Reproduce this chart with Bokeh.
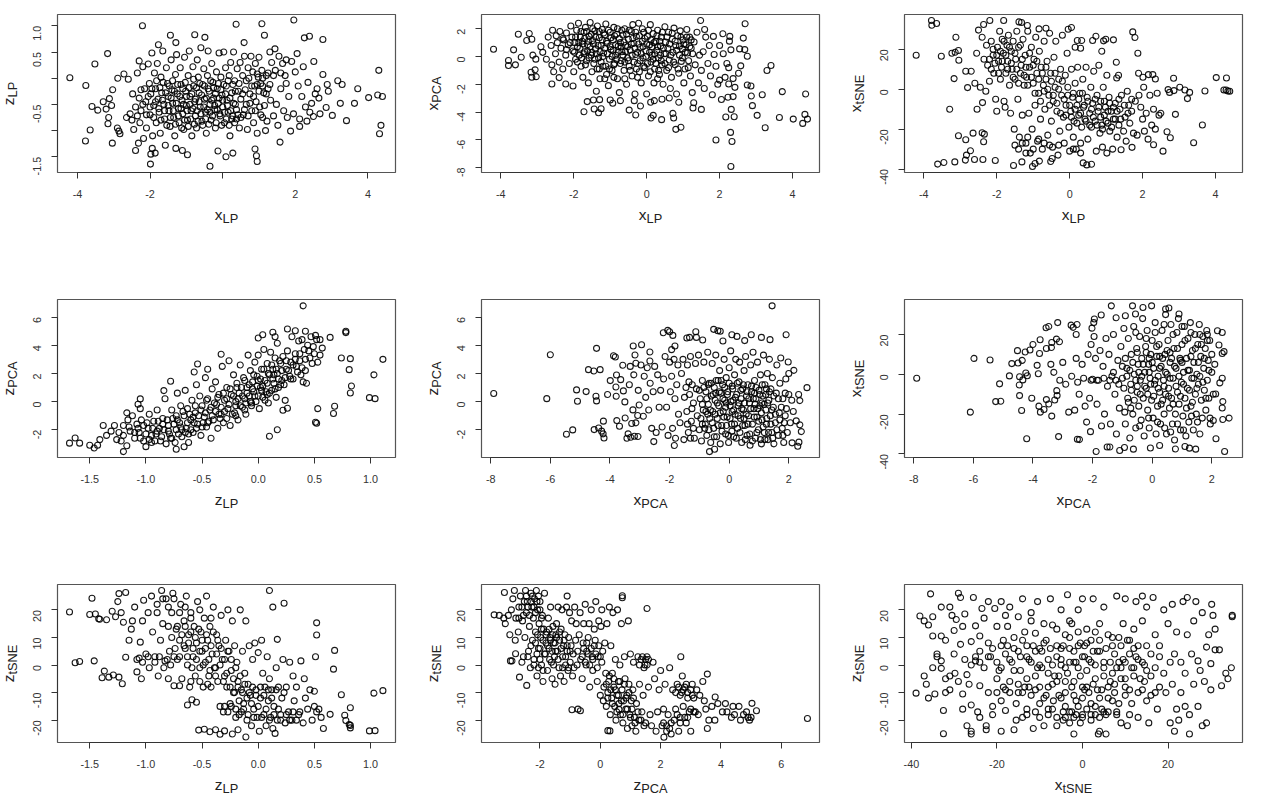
from math import pi
from bokeh.plotting import figure
from bokeh.models import FixedTicker, Title
from bokeh.layouts import column, row
from bokeh.embed import file_html
from bokeh.resources import INLINE

xlp_zlp = [(-4.21,0.01),(-3.77,-0.14),(-3.52,0.27),(-3.17,0.47),(-3.6,-0.54),(-3.44,-0.61),(-3.29,-0.45),(-3.12,-0.39),(-3.21,-0.59),(-3.06,-0.52),(-3.14,-0.75),(-3.16,-0.87),(-3.65,-0.99),(-3.78,-1.2),(-3.04,-1.24),(-2.9,-0.95),(-2.86,-1.01),(-2.83,-1.06),(-3.03,-0.22),(-2.89,0.0),(-2.21,1.0),(0.37,1.03),(1.08,1.04),(1.96,1.11),(1.15,0.82),(2.25,0.77),(2.39,0.8),(2.76,0.74),(-1.44,0.82),(-0.77,0.83),(-0.49,0.78),(-1.77,0.64),(-1.29,0.68),(0.59,0.68),(1.44,0.56),(4.3,0.15),(3.17,-0.05),(3.29,-0.12),(3.72,-0.2),(4.02,-0.37),(4.27,-0.32),(4.4,-0.35),(3.24,-0.48),(3.63,-0.48),(3.41,-0.81),(3.02,-0.71),(4.36,-0.9),(4.32,-1.06),(2.76,0.07),(2.88,-0.12),(2.91,-0.25),(2.85,-0.56),(2.68,-0.68),(2.51,0.32),(-1.99,-1.64),(-0.35,-1.68),(0.95,-1.59),(0.93,-1.48),(0.89,-1.35),(0.28,-1.43),(0.09,-1.5),(-0.13,-1.39),(-0.97,-1.46),(-1.11,-1.38),(-1.29,-1.34),(-1.98,-1.45),(-1.86,-1.43),(-1.94,-1.34),(-2.4,-1.38),(-2.32,-1.24),(1.58,-1.22),(1.87,-1.01),(2.12,-0.92),
(-2.72,0.08),(-2.6,-0.02),(-2.65,-0.75),(-2.55,-0.68),(-2.48,-0.3),(-2.5,-0.8),(-2.45,-0.98),(-2.4,-0.55),(-2.35,0.1),(-2.3,0.33),(-2.3,-0.38),(-2.28,-0.85),(-2.25,-0.62),(-2.2,0.22),(-2.18,-1.15),(-2.15,-0.2),(-2.12,-0.45),(-2.1,-0.95),(-2.05,0.27),(-2.02,-0.1),(-2.0,-0.7),(-1.98,-0.3),(-1.95,0.48),(-1.93,-1.1),(-1.9,-0.52),(-1.88,0.1),(-1.85,-0.2),(-1.83,-0.85),(-1.8,0.28),(-1.78,-0.4),(-1.75,-0.65),(-1.72,-1.05),(-1.7,0.02),(-1.68,-0.28),(-1.65,0.52),(-1.62,-0.5),(-1.6,-0.78),(-1.58,-1.28),(-1.55,0.2),(-1.52,-0.1),(-1.5,-0.35),(-1.48,-0.62),(-1.45,-0.92),(-1.42,0.35),(-1.4,-0.22),(-1.38,-0.48),(-1.35,-0.75),(-1.32,-1.1),(-1.3,0.07),(-1.27,0.45),(-1.25,-0.3),(-1.22,-0.58),(-1.2,-0.85),(-1.17,0.2),(-1.15,-0.12),(-1.12,-0.42),(-1.1,-0.68),(-1.07,-0.98),(-1.05,0.4),(-1.02,-0.25),(-1.0,-0.52),(-0.97,-0.8),(-0.95,0.05),(-0.92,0.52),(-0.9,-0.35),(-0.87,-0.62),(-0.85,-1.1),(-0.82,0.22),(-0.8,-0.15),(-0.77,-0.45),(-0.75,-0.72),(-0.72,-0.95),(-0.7,0.35),(-0.67,0.02),(-0.65,-0.28),(-0.62,-0.55),(-0.6,0.58),(-0.57,-0.82),(-0.55,-0.12),(-0.52,0.18),(-0.5,-0.4),(-0.47,-0.65),(-0.45,-1.05),(-0.42,0.05),(-0.4,0.52),(-0.37,-0.25),(-0.35,-0.5),(-0.32,-0.8),(-0.3,0.28),(-0.27,-0.08),(-0.25,-0.38),(-0.22,-0.6),(-0.2,-0.95),(-0.17,0.12),(-0.15,-0.2),(-0.12,-0.48),(-0.1,0.48),(-0.07,-0.72),(-0.05,0.02),(-0.02,-0.32),(0.0,-0.55),(0.03,0.5),(0.05,-0.85),(0.08,0.2),(0.1,-0.15),(0.12,-0.42),(0.15,-0.65),(0.18,0.05),(0.2,-1.1),(0.22,0.3),(0.25,-0.28),(0.28,-0.72),(0.3,0.5),(0.33,-0.05),(0.35,-0.5),(0.38,-0.78),(0.4,0.18),(0.43,-0.25),(0.46,-0.95),(0.48,0.3),(0.5,-0.4),(0.55,0.05),(0.57,-0.7),(0.6,0.42),(0.62,-0.22),(0.65,-0.5),(0.68,-0.98),(0.7,0.2),(0.72,0.0),(0.75,-0.3),(0.78,0.42),(0.8,-0.62),(0.83,0.12),(0.85,-0.85),(0.88,-0.15),(0.9,0.28),(0.92,-0.45),(0.95,-1.05),(0.98,0.02),(1.0,0.4),(1.02,-0.55),(1.05,-0.1),(1.08,0.15),(1.1,-0.75),(1.13,-0.28),(1.18,-1.0),(1.2,0.05),(1.22,-0.82),(1.25,-0.2),(1.3,0.5),(1.32,-0.42),(1.35,0.3),(1.4,-0.72),(1.45,0.15),(1.48,-0.5),(1.52,-0.9),(1.55,0.42),(1.6,-0.2),(1.65,0.28),(1.68,-0.62),(1.72,0.05),(1.75,0.35),(1.78,-0.75),(1.82,-0.35),(1.9,0.32),(1.95,-0.68),(2.0,0.12),(2.05,0.47),(2.08,-0.15),(2.12,-0.78),(2.18,-0.35),(2.22,0.22),(2.28,-0.55),(2.32,-0.82),(2.35,-0.08),(2.4,-0.65),(2.45,-0.48),(2.5,-0.73),(2.55,-0.3),(2.6,-0.2),(2.65,-0.38)]
xlp_zlp_core = [(-1.95,-0.2),(-1.9,-0.75),(-1.85,-0.45),(-1.82,-0.05),(-1.76,-0.58),(-1.73,-0.18),(-1.7,-0.8),(-1.66,-0.42),(-1.64,-0.08),(-1.6,-0.62),(-1.57,-0.28),(-1.54,-0.9),(-1.5,-0.52),(-1.47,-0.15),(-1.44,-0.75),(-1.42,-0.38),(-1.38,-0.05),(-1.36,-0.62),(-1.33,-0.25),(-1.3,-0.88),(-1.28,-0.48),(-1.24,-0.12),(-1.22,-0.72),(-1.18,-0.35),(-1.15,-0.58),(-1.13,-0.95),(-1.1,-0.2),(-1.08,-0.5),(-1.05,-0.8),(-1.03,-0.08),(-1.0,-0.35),(-0.98,-0.62),(-0.95,-0.92),(-0.92,-0.18),(-0.9,-0.5),(-0.88,-0.78),(-0.85,-0.3),(-0.82,-0.58),(-0.8,-0.02),(-0.78,-0.88),(-0.75,-0.4),(-0.72,-0.18),(-0.7,-0.62),(-0.68,-0.82),(-0.65,-0.45),(-0.63,-0.1),(-0.6,-0.68),(-0.58,-0.32),(-0.55,-0.9),(-0.52,-0.55),(-0.5,-0.15),(-0.47,-0.78),(-0.45,-0.38),(-0.42,-0.6),(-0.4,-0.2),(-0.38,-0.88),(-0.35,-0.65),(-0.33,-0.05),(-0.3,-0.42),(-0.28,-0.72),(-0.25,-0.18),(-0.22,-0.52),(-0.2,-0.3),(-0.18,-0.85),(-0.15,-0.6),(-0.12,-0.1),(-0.1,-0.38),(-0.08,-0.68),(-0.05,-0.22),(-0.03,-0.9),(0,-0.42),(0.03,-0.12),(0.05,-0.65),(0.08,-0.3),(0.1,-0.78),(0.13,-0.52),(0.15,-0.05),(0.18,-0.9),(0.2,-0.38),(0.22,-0.62),(0.25,-0.78),(0.28,-0.12),(0.3,-0.48),(0.33,-0.85),(0.35,-0.25),(0.38,-0.6),(0.42,-0.7),(0.45,-0.1),(0.5,-0.75),(0.55,-0.3),(0.6,-0.6),(0.65,-0.05),(0.7,-0.72),(0.75,-0.48),(0.8,-0.15),(0.85,-0.35),(0.9,-0.62),(0.95,0.08),(1.0,-0.25),(1.05,-0.7),(1.1,0.0),(1.15,-0.52),(1.2,-0.3),(1.25,0.1),(1.3,-0.12),(1.1,-0.15),(0.95,-0.12),(-2.25,-0.22),(-2.2,-0.5),(-2.35,-0.72),(-2.1,-0.7),(-2.05,-0.35),(-2.0,-0.55),(1.4,0.05),(1.6,0.1),(1.75,-0.1)]

xlp_xpca = [(-4.2,0.53),(-3.79,-0.29),(-3.79,-0.65),(-3.65,0.48),(-3.6,-0.6),(-3.44,-0.05),(-3.52,1.61),(-3.22,1.66),(-3.29,1.16),(-3.15,1.25),(-3.12,0.1),(-3.04,-0.19),(-3.06,-0.96),(-3.17,-1.13),(-3.15,-1.49),(-3.03,-1.45),(-2.6,-1.98),(-2.4,-1.52),(-2.22,-1.98),(-2.02,-2.12),(-1.72,-3.98),(-1.63,-3.25),(-1.44,-3.78),(-1.32,-4.05),(-1.25,-3.76),(-1.46,-3.13),(-1.29,-3.11),(-1.0,-3.13),(-0.93,-3.37),(-0.72,-3.18),(-0.48,-3.86),(-0.3,-4.22),(-0.17,-3.57),(-0.34,-3.18),(0.11,-3.3),(0.12,-4.43),(0.18,-4.24),(0.41,-4.55),(0.74,-4.43),(0.72,-4.1),(0.8,-5.25),(0.94,-5.1),(0.88,-3.3),(0.21,-3.18),(0.42,-3.08),(0.62,-2.99),(1.27,-3.71),(1.5,-3.81),(1.29,-3.33),(1.9,-6.02),(2.3,-5.47),(2.34,-6.12),(2.31,-7.93),(2.17,-4.36),(2.32,-3.81),(2.4,-4.34),(2.37,-2.89),(2.23,-2.94),(2.42,-2.22),(2.37,-1.59),(2.25,-1.98),(3.03,-4.24),(3.25,-5.13),(2.9,-3.54),(2.87,-2.84),(2.76,-2.05),(2.86,-2.12),(3.17,-2.75),(3.3,-1.01),(3.41,-0.65),(3.72,-2.53),(3.64,-4.39),(4.02,-4.51),(4.28,-4.82),(4.34,-4.17),(4.41,-4.51),(4.36,-2.7),(2.7,2.36),(2.65,1.33),(2.28,1.45),(2.27,1.11),(2.09,1.64),(1.48,2.6),(1.83,1.45),(1.59,1.95),(2.76,0.02),(2.58,-0.67),(2.52,-1.2),(2.31,0.48),(2.55,0.55),(2.69,0.5),
(-2.9,0.7),(-2.85,0.3),(-2.75,-0.2),(-2.7,1.4),(-2.62,0.8),(-2.6,-0.6),(-2.58,1.9),(-2.55,-1.1),(-2.5,0.2),(-2.48,1.5),(-2.45,1.0),(-2.4,-0.4),(-2.38,1.8),(-2.35,0.6),(-2.3,-0.9),(-2.28,1.2),(-2.22,0.1),(-2.2,1.7),(-2.15,0.85),(-2.12,-0.5),(-2.08,2.2),(-2.05,1.4),(-2.02,0.4),(-2,-1.1),(-1.97,1.0),(-1.95,-0.2),(-1.92,1.9),(-1.9,0.7),(-1.87,2.4),(-1.85,0.1),(-1.82,1.4),(-1.8,-0.7),(-1.77,1.1),(-1.75,-1.5),(-1.72,1.75),(-1.7,0.35),(-1.68,2.1),(-1.65,-0.3),(-1.62,0.85),(-1.6,-1.9),(-1.58,1.45),(-1.55,2.45),(-1.52,0.1),(-1.5,-1.1),(-1.48,1.15),(-1.45,-0.5),(-1.42,1.85),(-1.4,0.55),(-1.38,-2.5),(-1.35,2.2),(-1.32,-0.1),(-1.3,1.35),(-1.28,-1.6),(-1.25,0.8),(-1.22,1.95),(-1.2,-0.7),(-1.18,0.25),(-1.15,1.55),(-1.12,2.35),(-1.1,-1.3),(-1.08,0.95),(-1.05,-2.1),(-1.02,-0.2),(-1,1.75),(-0.98,0.5),(-0.95,-1.0),(-0.92,1.2),(-0.9,2.1),(-0.88,-0.5),(-0.85,0.1),(-0.82,1.6),(-0.8,-1.6),(-0.78,0.75),(-0.75,-2.6),(-0.72,1.0),(-0.7,-0.3),(-0.68,0.35),(-0.65,1.55),(-0.62,-1.0),(-0.6,2.0),(-0.58,0.8),(-0.55,-2.0),(-0.52,-0.1),(-0.5,1.25),(-0.48,-0.7),(-0.45,0.45),(-0.42,1.8),(-0.4,-1.4),(-0.38,2.3),(-0.35,0.95),(-0.32,-2.7),(-0.3,0.15),(-0.28,1.45),(-0.25,-0.5),(-0.22,2.4),(-0.2,-1.1),(-0.18,0.65),(-0.15,-1.9),(-0.12,1.1),(-0.1,-0.1),(-0.08,1.75),(-0.05,-0.8),(-0.02,0.4),(0,-2.7),(0.02,1.45),(0.05,-1.4),(0.08,0.85),(0.1,2.3),(0.12,-0.4),(0.15,0.1),(0.18,1.65),(0.2,-1.9),(0.22,-0.9),(0.25,1.1),(0.28,0.45),(0.3,1.9),(0.32,-0.1),(0.35,-1.3),(0.38,0.75),(0.4,1.4),(0.42,-0.6),(0.45,-2.0),(0.48,0.2),(0.5,2.15),(0.52,1.05),(0.55,-1.0),(0.58,0.6),(0.6,1.75),(0.62,-0.25),(0.65,-2.3),(0.68,-1.5),(0.7,1.25),(0.72,0.3),(0.75,2.05),(0.78,-0.6),(0.8,0.8),(0.82,-2.7),(0.85,1.5),(0.88,-1.2),(0.9,0.1),(0.92,1.85),(0.95,-0.35),(0.98,0.55),(1.0,1.2),(1.02,-1.9),(1.05,-0.9),(1.08,0.85),(1.1,1.95),(1.12,0.25),(1.15,-0.3),(1.18,1.4),(1.2,-1.4),(1.22,0.6),(1.25,-2.6),(1.3,1.05),(1.33,-0.6),(1.38,1.75),(1.42,-1.9),(1.45,0.1),(1.5,-1.0),(1.55,0.35),(1.58,-2.3),(1.62,1.4),(1.68,-0.5),(1.72,0.8),(1.75,-1.4),(1.8,-2.75),(1.85,0.15),(1.9,-0.7),(1.95,-2.0),(2.0,0.8),(2.05,-3.1),(2.1,0.2),(2.15,-1.5),(2.2,-0.5),(2.25,-0.8),(2.0,-1.7)]
xlp_xpca_core = [(-1.98,0.3),(-1.95,1.4),(-1.9,-0.4),(-1.86,1.0),(-1.83,0.6),(-1.8,1.8),(-1.78,-0.1),(-1.75,0.9),(-1.72,0.2),(-1.7,1.3),(-1.68,-0.6),(-1.65,1.8),(-1.62,0.4),(-1.6,1.1),(-1.58,-0.1),(-1.55,0.7),(-1.52,1.6),(-1.5,0.3),(-1.48,2.0),(-1.45,0.9),(-1.42,-0.2),(-1.4,1.4),(-1.38,0.2),(-1.36,-0.9),(-1.33,0.8),(-1.3,1.8),(-1.28,0.35),(-1.25,-0.4),(-1.22,1.2),(-1.2,0.0),(-1.18,1.7),(-1.15,0.6),(-1.12,-0.7),(-1.1,1.1),(-1.08,0.2),(-1.05,1.9),(-1.02,-0.9),(-1,0.7),(-0.98,1.35),(-0.95,0.0),(-0.92,0.45),(-0.9,-0.6),(-0.88,1.5),(-0.85,0.85),(-0.82,-0.2),(-0.8,2.0),(-0.78,0.3),(-0.75,1.3),(-0.72,-0.5),(-0.7,0.7),(-0.68,1.9),(-0.65,0.1),(-0.62,1.05),(-0.6,-0.4),(-0.58,0.35),(-0.55,1.6),(-0.52,0.7),(-0.5,-0.3),(-0.48,1.9),(-0.45,-1.0),(-0.42,0.9),(-0.4,0.1),(-0.38,1.3),(-0.35,-0.4),(-0.32,0.6),(-0.3,1.75),(-0.28,-0.9),(-0.25,0.3),(-0.22,0.9),(-0.2,1.5),(-0.18,-0.3),(-0.15,0.2),(-0.12,2.0),(-0.1,0.7),(-0.08,-0.7),(-0.05,1.3),(-0.02,0.0),(0,0.9),(0.02,-0.5),(0.05,1.9),(0.08,0.3),(0.1,-1.1),(0.12,1.2),(0.15,0.7),(0.18,-0.2),(0.2,1.0),(0.22,0.2),(0.25,-0.5),(0.28,1.5),(0.3,0.7),(0.33,-1.0),(0.36,1.1),(0.38,0.1),(0.4,-0.3),(0.43,1.75),(0.46,0.6),(0.5,-0.5),(0.53,0.2),(0.56,1.4),(0.6,-0.8),(0.63,0.9),(0.66,0.1),(0.7,1.7),(0.74,-0.4),(0.78,1.1),(0.82,0.45),(0.86,-0.9),(0.9,0.75),(0.94,1.4),(0.98,-0.1),(1.02,0.9),(1.06,0.3),(1.1,1.4),(1.14,-0.8),(1.18,0.7),(1.22,1.2),(1.26,0.2),(-0.9,-1.5),(-1.3,-0.9),(-1.15,-1.6),(-0.6,-1.6),(-0.25,-1.5),(0.3,-1.6),(-2.2,0.5),(-2.3,1.3),(-2.1,1.0)]

xlp_xtsne = [(-4.21,17),(-3.79,34.4),(-3.78,32),(-3.65,32.9),(-3.52,16.5),(-3.12,26),(-3.23,18),(-3.14,18.5),(-3.05,19.4),(-3.04,14.5),(-3.17,5.3),(-2.8,0.8),(-3.29,-10),(-2.54,-10),(-2.39,-6.7),(-3.05,-23.3),(-2.85,-25.3),(-2.65,-22),(-2.4,-21.8),(-2.34,-22.5),(-2.36,-26.3),(-2.72,-30.8),(-2.83,-33),(-2.86,-35.5),(-3.15,-36.4),(-3.45,-36.7),(-3.62,-37.5),(-2.61,-35.2),(-2.38,-35.2),(-2.04,-35.7),(-1.54,-38.2),(-1.31,-36.4),(-1.02,-38.7),(-0.95,-37.2),(-0.83,-36),(-0.52,-36.2),(0.37,-36.9),(0.47,-37.9),(0.6,-37.6),(-0.48,-34.7),(-2.36,32.4),(-2.19,34.4),(-1.81,34.4),(-1.39,33.7),(-1.32,33.4),(-1.16,31.9),(-0.84,30.2),(-0.65,30.5),(-0.04,30),(0.05,30.9),(0.21,24.4),(0.33,24.4),(0.63,24.4),(0.72,26.5),(0.93,24.2),(0.99,25),(1.2,24.7),(1.73,28.7),(1.79,25.9),(1.87,18),(0.88,19),(0.3,20.5),(0.15,21),(1.28,13.5),(1.29,5.6),(1.34,7),(1.02,7),(1.89,8),(2.01,6),(2.16,7.3),(2.28,7.3),(2.35,5.1),(2.85,5.5),(2.03,1),(4.02,5.8),(4.3,5.6),(4.23,-0.4),(4.29,-0.4),(4.34,-0.9),(4.39,-1),(3.71,-0.9),(3.29,-1.6),(3.23,-4.7),(3.16,-0.4),(3.02,1),(2.86,-0.7),(2.74,-1.6),(2.7,-0.2),(2.9,-12.6),(3.64,-17.9),(3.4,-26.8),(2.56,-31),(2.76,-24.3),(2.67,-21.3),(2.3,-27.8),(1.71,-29.1),(1.41,-30.3),
(-2.85,9),(-2.7,9),(-2.6,3),(-2.55,18),(-2.5,29.6),(-2.45,1),(-2.4,26),(-2.35,15),(-2.3,-1),(-2.28,22),(-2.25,12),(-2.2,4),(-2.15,24),(-2.1,17),(-2.08,8),(-2.03,-5),(-2,-11),(-1.98,21),(-1.95,14),(-1.92,29),(-1.9,5),(-1.87,11),(-1.85,25),(-1.82,18),(-1.8,-6),(-1.77,-9),(-1.75,8),(-1.72,22),(-1.7,14),(-1.68,27),(-1.65,2),(-1.62,-12),(-1.6,19),(-1.58,10),(-1.55,24),(-1.52,-20),(-1.5,5),(-1.48,15),(-1.45,29),(-1.42,-5),(-1.4,21),(-1.38,-24),(-1.35,8),(-1.33,12),(-1.3,-13),(-1.28,25),(-1.25,2),(-1.22,17),(-1.2,-27),(-1.18,6),(-1.15,29),(-1.12,-12),(-1.1,11),(-1.08,-32),(-1.05,21),(-1.03,-20),(-1,3),(-0.98,15),(-0.95,-8),(-0.93,26),(-0.9,8),(-0.88,-26),(-0.85,-2),(-0.83,19),(-0.8,-15),(-0.78,11),(-0.75,-30),(-0.72,2),(-0.7,24),(-0.68,-10),(-0.65,5),(-0.62,14),(-0.6,-23),(-0.57,-3),(-0.55,28),(-0.52,8),(-0.5,-16),(-0.47,-29),(-0.45,-6),(-0.43,16),(-0.4,1),(-0.38,24),(-0.35,-11),(-0.32,-33),(-0.3,5),(-0.27,-21),(-0.25,10),(-0.22,-3),(-0.2,27),(-0.17,-14),(-0.15,-27),(-0.12,7),(-0.1,-8),(-0.07,18),(-0.05,1),(-0.02,-19),(0,-31),(0.03,-11),(0.05,10),(0.08,-4),(0.1,-24),(0.12,-16),(0.15,3),(0.18,-30),(0.2,-8),(0.22,11),(0.25,-13),(0.28,-2),(0.3,-27),(0.33,-19),(0.36,5),(0.38,-9),(0.42,-15),(0.45,11),(0.48,-4),(0.5,-25),(0.55,-12),(0.58,1),(0.6,-19),(0.63,-7),(0.66,9),(0.7,-16),(0.73,-31),(0.75,-3),(0.78,-11),(0.8,12),(0.83,-22),(0.85,-6),(0.88,-18),(0.9,-29),(0.92,1),(0.95,-13),(0.98,-9),(1.02,-32),(1.05,-17),(1.08,-4),(1.1,-21),(1.14,-11),(1.18,-30),(1.2,-15),(1.25,-7),(1.3,-24),(1.35,-18),(1.38,-10),(1.42,-3),(1.48,-21),(1.52,-14),(1.55,-26),(1.58,-1),(1.62,-8),(1.65,-17),(1.7,-11),(1.75,-22),(1.8,-6),(1.85,-23),(1.9,-3),(1.95,-9),(2.0,-15),(2.05,-21),(2.1,-12),(2.15,-25),(2.2,-3),(2.25,-18),(2.3,-10),(2.35,-20),(2.4,-2),(2.45,-13),(2.5,-12)]
xlp_xtsne_core = [(-2.2,15),(-2.15,10),(-2.1,20),(-2.05,13),(-2,17),(-1.95,8),(-1.9,19),(-1.85,14),(-1.8,24),(-1.75,17),(-1.7,10),(-1.65,21),(-1.6,13),(-1.55,6),(-1.5,18),(-1.45,10),(-1.4,3),(-1.35,22),(-1.3,15),(-1.25,7),(-1.2,11),(-1.15,2),(-1.1,18),(-1.05,6),(-1,12),(-0.95,-2),(-0.9,14),(-0.85,5),(-0.8,-6),(-0.75,8),(-0.7,-1),(-0.65,11),(-0.6,0),(-0.55,-8),(-0.5,4),(-0.45,-3),(-0.4,8),(-0.35,-7),(-0.3,0),(-0.25,-12),(-0.2,4),(-0.15,-5),(-0.1,-13),(-0.05,-3),(0,-8),(0.05,-14),(0.1,-2),(0.15,-10),(0.2,-17),(0.25,-5),(0.3,-12),(0.35,-2),(0.4,-8),(0.45,-16),(0.5,-6),(0.55,-18),(0.6,-10),(0.65,-14),(0.7,-5),(0.75,-18),(0.8,-9),(0.85,-14),(0.9,-20),(0.95,-6),(1,-16),(1.05,-11),(1.1,-7),(1.15,-19),(1.2,-9),(1.25,-15),(1.3,-11),(1.35,-5),(1.4,-15),(1.5,-8),(1.6,-12),(1.7,-5),(-1.5,-28),(-1.4,-30),(-1.3,-27),(-1.15,-24),(-1,-30),(-0.85,-25),(-0.7,-27),(-0.55,-28),(-1.2,-32),(-0.3,-28),(0.1,-30),(0.3,-32)]

zlp_zpca = [(0.4,6.8),(-1.68,-2.95),(-1.63,-2.58),(-1.59,-2.95),(0.78,5),(0.78,4.9),(0.64,4.56),(0.74,3.1),(0.82,3.05),(1.11,3),(0.81,2.27),(1.03,1.9),(0.83,1.11),(0.82,0.61),(0.99,0.28),(1.04,0.21),(0.68,-0.33),(0.67,-0.85),(0.53,-0.5),(0.51,-1.47),(0.52,-1.54),(0.24,0.09),(0.26,-0.47),(0.22,-0.61),(0.17,-2),(0.1,-2.46),(0,4.52),(0.04,4.75),(0.13,4.92),(0.15,4.6),(0.17,4.14),(0.26,5.15),(0.33,5.03),(0.42,5),(-1.2,-3.55),(-1.17,-3.14),(-0.73,-3.38),(-0.66,-3.21),(-0.54,2.67),(-0.57,2.1),(-0.45,2.3),(-0.33,3.36),(-1.05,0.19),(-1.07,-0.19),(-1.05,-0.5),(-0.78,1.44),(-0.84,0.78),
(-1.5,-3.1),(-1.46,-3.3),(-1.43,-3.1),(-1.41,-2.7),(-1.38,-1.7),(-1.35,-2.4),(-1.31,-2.1),(-1.28,-1.7),(-1.26,-2.7),(-1.24,-2.2),(-1.22,-2.8),(-1.2,-1.7),(-1.17,-0.8),(-1.16,-1.3),(-1.14,-2.1),(-1.12,-1.0),(-1.1,-2.6),(-1.08,-1.6),(-1.06,-2.2),(-1.04,-1.3),(-1.02,-2.8),(-1.0,-3.2),(-0.98,-1.9),(-0.97,-0.9),(-0.95,-2.4),(-0.93,-1.4),(-0.92,-2.8),(-0.9,-0.6),(-0.88,-1.9),(-0.86,-2.5),(-0.85,-1.2),(-0.83,0.2),(-0.82,-3.0),(-0.8,-1.7),(-0.79,-2.3),(-0.77,-0.6),(-0.76,-1.2),(-0.74,-2.9),(-0.73,-2.0),(-0.72,0.6),(-0.7,-1.5),(-0.69,-0.3),(-0.68,-2.5),(-0.66,-1.0),(-0.65,0.8),(-0.64,-1.9),(-0.63,-0.5),(-0.62,-2.9),(-0.6,-1.3),(-0.59,0.1),(-0.58,-2.2),(-0.56,-0.8),(-0.55,1.2),(-0.54,-1.6),(-0.52,0.4),(-0.51,-2.4),(-0.5,-0.3),(-0.48,-1.1),(-0.47,1.7),(-0.46,-1.8),(-0.45,0.2),(-0.43,-0.6),(-0.42,-2.6),(-0.41,0.9),(-0.4,-1.3),(-0.38,1.4),(-0.37,-0.2),(-0.36,-1.9),(-0.35,0.5),(-0.33,-0.9),(-0.32,2.5),(-0.31,-1.5),(-0.3,0.1),(-0.28,1.0),(-0.27,-0.5),(-0.26,2.9),(-0.25,-1.7),(-0.24,0.5),(-0.22,1.9),(-0.21,-0.8),(-0.2,0.0),(-0.19,1.3),(-0.18,-1.3),(-0.17,0.6),(-0.16,2.6),(-0.14,-0.4),(-0.13,1.7),(-0.12,0.2),(-0.11,-0.9),(-0.1,1.0),(-0.09,3.3),(-0.08,0.4),(-0.07,2.2),(-0.06,-0.3),(-0.05,1.4),(-0.04,0.7),(-0.03,2.8),(-0.02,0.0),(-0.01,1.8),(0.0,3.3),(0.01,-0.5),(0.02,1.0),(0.03,2.3),(0.04,0.3),(0.05,3.7),(0.06,1.5),(0.07,0.7),(0.08,2.7),(0.09,-0.1),(0.1,1.9),(0.11,3.5),(0.12,0.8),(0.13,2.3),(0.14,1.3),(0.15,3.1),(0.16,0.3),(0.17,2.0),(0.18,1.0),(0.2,2.7),(0.21,1.5),(0.22,3.2),(0.24,1.7),(0.25,2.3),(0.26,3.6),(0.28,1.8),(0.29,2.8),(0.3,4.6),(0.31,1.6),(0.33,3.4),(0.34,2.5),(0.36,4.3),(0.37,2.9),(0.38,1.9),(0.39,4.4),(0.4,1.4),(0.41,3.7),(0.42,2.2),(0.43,1.3),(0.44,4.0),(0.46,3.1),(0.47,4.6),(0.48,2.7),(0.49,3.9),(0.5,3.4),(0.52,4.4),(0.53,2.8),(0.55,3.3),(0.57,3.8),(0.55,4.4),(0.51,4.7)]
zlp_zpca_core = [(-1.0,-2.3),(-0.97,-2.7),(-0.94,-1.9),(-0.91,-2.3),(-0.89,-1.4),(-0.87,-2.8),(-0.84,-2.0),(-0.81,-1.3),(-0.78,-2.6),(-0.75,-1.6),(-0.73,-1.0),(-0.71,-2.3),(-0.69,-1.8),(-0.67,-0.7),(-0.65,-2.2),(-0.63,-1.5),(-0.61,-0.9),(-0.6,-2.0),(-0.58,-1.1),(-0.56,-0.3),(-0.55,-1.9),(-0.53,-1.0),(-0.51,-0.6),(-0.49,-1.5),(-0.47,-0.8),(-0.46,0.1),(-0.44,-1.4),(-0.42,-0.4),(-0.41,-1.0),(-0.39,-0.1),(-0.38,-0.7),(-0.36,0.3),(-0.34,-1.2),(-0.33,-0.4),(-0.31,0.6),(-0.3,-0.7),(-0.28,0.2),(-0.26,-0.2),(-0.25,0.9),(-0.23,-0.9),(-0.22,0.4),(-0.2,-0.3),(-0.19,1.0),(-0.18,0.2),(-0.16,-0.3),(-0.15,1.0),(-0.14,0.4),(-0.12,1.5),(-0.11,-0.1),(-0.1,0.6),(-0.08,1.2),(-0.07,0.0),(-0.05,0.9),(-0.04,1.9),(-0.03,0.4),(-0.01,1.1),(0,0.4),(0.02,1.6),(0.03,0.8),(0.05,2.3),(0.06,0.1),(0.08,1.3),(0.09,2.0),(0.1,0.6),(0.12,2.6),(0.13,1.6),(0.15,0.9),(0.16,2.3),(0.18,1.6),(0.19,2.9),(0.21,2.2),(0.23,1.2),(0.25,2.9),(0.27,2.2),(0.29,1.6),(0.31,2.6),(0.33,3.0),(0.35,2.1),(0.37,3.4),(0.39,2.4),(0.42,3.0),(0.45,3.6),(-1.2,-2.4),(-1.15,-1.8),(-1.1,-2.2),(-1.05,-2.6),(-1.07,-1.9),(-1.02,-1.7),(-0.99,-1.5),(-0.95,-2.9),(-0.9,-2.1),(-0.85,-1.6),(-0.8,-2.1),(-0.77,-2.6),(-0.72,-1.3),(-0.68,-2.0),(-0.62,-2.3),(-0.57,-1.5),(-0.5,-1.8),(-0.45,-1.5),(-0.35,-0.9),(-0.28,-1.2),(-0.2,-1.0),(-0.12,-0.6),(-0.06,-0.1),(0.0,1.5),(0.04,1.1),(0.08,0.5),(0.14,1.9),(0.2,1.2)]

xpca_zpca = [(1.44,6.8),(-7.9,0.57),(-6.12,0.21),(-6,3.33),(-5.46,-2.32),(-5.25,-2.01),(-5.12,0.83),(-5.09,0.02),(-4.8,0.71),(-4.72,2.27),(-4.54,2.17),(-4.33,2.27),(-4.45,3.78),(-4.47,0.38),(-4.45,0.05),(-4.53,-1.99),(-4.38,-1.87),(-4.22,-1.39),(-4.28,-2.1),(-4.23,-2.29),(-4.2,-2.58),(-4.08,0.5),(-3.99,1.49),(-3.88,3.26),(-3.82,3.17),(-3.78,1.89),(-3.8,1.04),(-3.79,0.38),(-3.64,1.56),(-3.55,0.76),(-3.57,2.58),(-3.5,-0.02),(-3.77,-1.35),(-3.68,-1.75),(-3.49,-1.16),(-3.22,3.95),(-2.94,4.04),(-3.16,3.31),(-3.32,2.5),(-2.66,3.52),(-2.66,2.88),(-3.13,2.72),(-2.96,2.6),(-2.21,4.89),(-2.06,5.06),(-2,4.96),(-1.89,4.7),(-1.82,3.95),(-1.93,3.69),(-2.53,-2.84),(-1.84,-3.12),(-3.43,-2.6),(-3.3,-2.53),(-3.18,-2.46),(-3.06,-2.48),(-3.39,-2.29),(-3.27,-1.56),(-3.13,-1.51),(-3.02,-0.24),(-3.23,-0.59),(-3.07,-0.99),(-2.88,-1.04),(2.61,0.99),(2.17,2.22),(1.98,2.81),(1.91,4.75),(1.37,4.4),(1.08,4.56),(0.74,4.75),(2.33,0.5),(2.37,0.07),(2.25,-1.37),(2.37,-1.65),(2.42,-2.13),(2.11,-2.93),(2.34,-2.88),(2.3,-3.17),(-0.66,-3.55),(-0.49,-3.38),(-0.52,5.13),(-0.38,5.03),(-0.3,5),(-1.12,4.96),(-1.1,4.56),(-0.89,4.37),(-1.42,4.52),(-1.33,4.56),(-0.21,4.3),(0.09,4.75),(0.26,4.63),(0.52,4.33),
(-3.35,1.2),(-3.2,1.9),(-3.05,0.8),(-2.85,1.8),(-2.8,0.3),(-2.75,2.4),(-2.7,-0.6),(-2.65,1.3),(-2.6,-1.9),(-2.55,0.7),(-2.5,2.5),(-2.45,-2.2),(-2.4,1.9),(-2.35,-0.4),(-2.3,0.8),(-2.25,-1.8),(-2.2,1.6),(-2.15,3.2),(-2.1,-0.4),(-2.05,-2.4),(-2.0,2.8),(-1.97,0.7),(-1.93,1.8),(-1.9,-1.9),(-1.85,3.0),(-1.82,0.2),(-1.8,-2.6),(-1.76,1.2),(-1.72,2.6),(-1.7,-0.9),(-1.65,-1.5),(-1.6,2.0),(-1.55,3.0),(-1.52,-2.7),(-1.5,0.3),(-1.45,1.0),(-1.42,-0.7),(-1.4,2.6),(-1.37,-2.2),(-1.33,0.5),(-1.3,3.2),(-1.27,-1.4),(-1.24,1.2),(-1.2,-0.1),(-1.17,-2.6),(-1.13,2.7),(-1.1,0.9),(-1.07,-1.0),(-1.03,3.3),(-1.0,-2.0),(-0.97,0.2),(-0.93,-2.8),(-0.9,1.5),(-0.87,-0.6),(-0.85,2.8),(-0.8,-1.6),(-0.78,0.7),(-0.75,-2.4),(-0.72,3.5),(-0.7,-0.2),(-0.67,1.3),(-0.65,-1.2),(-0.62,-2.9),(-0.6,0.4),(-0.57,2.7),(-0.55,-0.7),(-0.52,-1.9),(-0.5,1.0),(-0.47,0.1),(-0.45,3.3),(-0.42,-2.5),(-0.4,-1.2),(-0.37,1.5),(-0.35,-0.3),(-0.32,2.2),(-0.3,-3.0),(-0.28,0.6),(-0.25,-1.7),(-0.22,1.2),(-0.2,-0.7),(-0.17,3.0),(-0.15,0.1),(-0.12,-2.3),(-0.1,1.7),(-0.07,-1.1),(-0.05,0.7),(-0.02,-2.9),(0.0,2.4),(0.03,-0.3),(0.05,3.6),(0.08,-1.6),(0.1,1.1),(0.13,0.1),(0.15,-2.5),(0.18,1.9),(0.2,-0.9),(0.22,3.0),(0.25,0.5),(0.28,-1.9),(0.3,-0.3),(0.33,1.4),(0.35,2.8),(0.38,-1.2),(0.4,0.2),(0.42,-2.9),(0.45,0.9),(0.48,-0.6),(0.5,2.2),(0.53,-1.7),(0.55,3.2),(0.58,0.4),(0.6,-2.4),(0.63,1.2),(0.65,-1.0),(0.68,-0.1),(0.7,-3.1),(0.72,2.6),(0.75,0.7),(0.78,-1.6),(0.8,3.5),(0.83,-0.5),(0.85,1.5),(0.88,-2.6),(0.9,0.2),(0.93,-1.1),(0.95,2.8),(0.98,-2.0),(1.0,0.8),(1.03,-0.3),(1.05,1.9),(1.08,-3.0),(1.1,-1.3),(1.13,0.4),(1.15,3.3),(1.18,-2.2),(1.2,1.2),(1.23,-0.6),(1.25,-1.6),(1.28,2.0),(1.3,-2.7),(1.33,0.1),(1.35,3.0),(1.38,-1.0),(1.4,0.9),(1.43,-2.2),(1.45,1.7),(1.48,-0.4),(1.5,-3.0),(1.55,-1.5),(1.58,0.6),(1.6,2.6),(1.65,-2.4),(1.68,-0.8),(1.7,1.3),(1.73,3.1),(1.78,-1.9),(1.8,0.2),(1.83,-2.9),(1.88,-1.0),(1.9,1.6),(1.95,-2.2),(2,0.5),(2.0,2.0),(2.05,-1.5),(2.1,0.1),(2.15,-0.7)]
xpca_zpca_core = [(-1.0,0.8),(-0.95,-1.2),(-0.9,-0.2),(-0.85,1.0),(-0.82,-1.9),(-0.78,-0.7),(-0.75,0.2),(-0.7,1.2),(-0.68,-2.0),(-0.63,-0.6),(-0.6,1.3),(-0.57,-1.5),(-0.54,0.5),(-0.5,-2.5),(-0.47,-0.9),(-0.44,1.5),(-0.4,-0.1),(-0.37,-1.7),(-0.33,0.7),(-0.3,-0.8),(-0.27,1.5),(-0.24,-2.1),(-0.21,0.2),(-0.18,-1.1),(-0.15,1.0),(-0.12,-0.4),(-0.09,-1.7),(-0.06,0.5),(-0.03,-2.4),(0,1.3),(0.03,-1.2),(0.06,0.0),(0.09,-2.1),(0.12,0.9),(0.15,-0.6),(0.18,-1.6),(0.21,0.3),(0.24,-2.6),(0.27,1.3),(0.3,-1.0),(0.33,-0.1),(0.36,-2.2),(0.39,0.8),(0.42,-0.5),(0.45,-1.7),(0.48,1.2),(0.51,-0.1),(0.54,-2.7),(0.57,-0.9),(0.6,0.7),(0.63,-1.6),(0.66,0.2),(0.69,-2.3),(0.72,-0.5),(0.75,1.1),(0.78,-2.8),(0.81,0.2),(0.84,-1.1),(0.87,-0.2),(0.9,1.0),(0.93,-2.2),(0.96,-0.5),(0.99,-1.4),(1.02,0.5),(1.05,-2.7),(1.08,-0.8),(1.11,1.2),(1.14,-1.8),(1.17,-0.2),(1.2,-2.7),(1.23,0.5),(1.26,-1.2),(1.29,-0.1),(1.32,-2.2),(1.35,0.7),(1.4,-1.6),(1.43,-0.6),(1.46,-2.6),(1.5,0.4),(1.55,-0.9),(1.6,-2.0),(1.65,0.2),(1.7,-1.3),(1.75,-0.4),(1.8,-2.4),(1.85,-1.5),(1.88,0.6),(1.92,-0.5),(-1.2,-1.9),(-1.25,-0.5),(-1.3,-2.6),(-1.35,1.4),(-1.4,-1.6),(-0.9,-1.6),(-0.72,-0.9),(-0.45,0.6),(-0.1,-0.1),(0.1,-0.7),(0.5,-1.2),(0.85,0.6),(1.1,-0.1),(1.25,0.9)]

xpca_xtsne = [(-7.9,-2),(-5.98,8),(-5.44,7.2),(-6.1,-19),(-5.25,-13.7),(-5.08,-13.5),(-5.12,-4.8),(-4.79,-0.8),(-4.71,5.4),(-4.5,5.7),(-4.36,7),(-4.52,11.9),(-4.26,11.2),(-4.1,12.2),(-4,15),(-3.76,17.4),(-3.78,10.5),(-3.86,4.5),(-3.82,0.3),(-4.45,-1.2),(-4.46,-5.4),(-4.34,-2.8),(-4.24,0.7),(-4.19,-0.7),(-4.45,-10.7),(-4.04,-12),(-4.38,-18.2),(-4.21,-32.4),(-3.8,-16),(-3.75,-19),(-3.63,-17.7),(-3.55,-12.7),(-3.47,-14.9),(-3.37,-21),(-3.27,-12.9),(-3.2,-8.2),(-3.19,-10.7),(-3.14,-31.3),(-3.56,23.4),(-3.47,24),(-3.17,26),(-3.55,13),(-3.38,13.5),(-3.21,17.7),(-3.11,16.4),(-3.37,16),(-2.51,-32.6),(-2.44,-32.8),(-2.72,24.7),(-2.52,25),(-2.65,23.6),(-2.55,20),(-2.07,-28.8),(-1.88,-38.8),(-2.02,23.2),(-1.71,29.8),(-1.94,27.8),(-1.96,26),(-1.37,34.4),(-1.21,28.4),(-0.66,34.4),(-0.02,34.4),(-0.31,33.6),(-0.9,29.4),(-0.56,30.3),(0.45,32.8),(0.56,33.3),(0.9,30.3),(2.58,-22),(2.43,-38.8),(2.37,-22.7),(2.35,-16.9),(2.37,-13.7),(2.14,-32.4),(2.05,-23.2),(1.94,-22),(2.19,21.9),(2.35,21),(2.24,14.7),(2.41,11.4),(2.35,10.5),(2.35,-2),(2.27,-4.3),(2.13,-9.9),(-1.09,-38.3),(-0.93,-36.8),(-0.63,-37.6),(-0.06,-37),(0.25,-35.8),(0.78,-37.5),(1.1,-36.3),(1.25,-37.1),(1.46,-37.6),(-1.51,-36.5),(-1.42,-36.5),
(-3.4,5),(-3.3,1),(-3.1,-3),(-3.0,6),(-2.9,-5),(-2.8,-19),(-2.7,-1),(-2.6,-18),(-2.55,8),(-2.5,-4),(-2.45,-10),(-2.35,5),(-2.3,-2),(-2.25,-16),(-2.2,-24),(-2.15,10),(-2.1,-12),(-2.05,15),(-2,-2.5),(-1.95,19),(-1.9,8),(-1.85,-15),(-1.8,-3),(-1.75,12),(-1.7,-26),(-1.65,4),(-1.6,-20),(-1.55,18),(-1.5,-6),(-1.45,10),(-1.4,-25),(-1.35,-1),(-1.3,20),(-1.25,-10),(-1.2,-30),(-1.15,7),(-1.1,-17),(-1.05,14),(-1,-2),(-0.95,23),(-0.9,-25),(-0.85,3),(-0.82,-12),(-0.8,18),(-0.75,-32),(-0.72,-5),(-0.7,10),(-0.65,-20),(-0.62,24),(-0.6,0),(-0.55,-27),(-0.52,13),(-0.5,-9),(-0.47,5),(-0.45,-16),(-0.42,19),(-0.4,-3),(-0.37,-23),(-0.35,8),(-0.32,28),(-0.3,-12),(-0.27,-31),(-0.25,1),(-0.22,14),(-0.2,-7),(-0.17,22),(-0.15,-18),(-0.12,5),(-0.1,-27),(-0.07,-2),(-0.05,10),(-0.02,-13),(0,17),(0.03,-22),(0.05,3),(0.08,-5),(0.1,26),(0.13,-30),(0.15,9),(0.18,-16),(0.2,-1),(0.23,15),(0.25,-9),(0.28,-25),(0.3,4),(0.33,22),(0.35,-13),(0.38,-3),(0.4,-20),(0.43,10),(0.45,30),(0.48,-30),(0.5,0),(0.53,17),(0.55,-7),(0.58,-17),(0.6,6),(0.63,25),(0.65,-12),(0.68,-25),(0.7,-2),(0.73,13),(0.75,-33),(0.78,-20),(0.8,3),(0.83,21),(0.85,-9),(0.88,28),(0.9,-15),(0.93,8),(0.95,-28),(0.98,-4),(1.0,15),(1.03,-21),(1.05,1),(1.08,24),(1.1,-12),(1.13,-31),(1.15,8),(1.18,-7),(1.2,18),(1.23,-24),(1.25,2),(1.28,26),(1.3,-16),(1.33,-2),(1.35,12),(1.38,-28),(1.4,6),(1.43,20),(1.45,-10),(1.48,-20),(1.5,0),(1.53,15),(1.55,-5),(1.58,25),(1.6,-30),(1.63,9),(1.65,-13),(1.68,-22),(1.7,19),(1.73,3),(1.75,-8),(1.78,13),(1.8,-18),(1.83,22),(1.85,-3),(1.88,7),(1.9,-12),(1.93,17),(1.95,-25),(2,1),(2.0,10),(2.05,-10),(2.1,5)]
xpca_xtsne_core = [(-1,4),(-0.95,-7),(-0.9,8),(-0.85,-1),(-0.8,-14),(-0.75,2),(-0.7,-8),(-0.65,6),(-0.6,-13),(-0.55,-3),(-0.5,11),(-0.45,1),(-0.4,-10),(-0.35,-1),(-0.3,5),(-0.25,-6),(-0.2,11),(-0.15,-10),(-0.1,1),(-0.05,-5),(0,6),(0.05,-11),(0.1,-3),(0.15,14),(0.2,-7),(0.25,3),(0.3,-15),(0.35,8),(0.4,-6),(0.45,1),(0.5,12),(0.55,-11),(0.6,-2),(0.65,8),(0.7,-15),(0.75,4),(0.8,-6),(0.85,13),(0.9,-1),(0.95,-11),(1,6),(1.05,-5),(1.1,17),(1.15,-17),(1.2,2),(1.25,-8),(1.3,9),(1.35,-14),(1.4,-2),(1.45,13),(1.5,-7),(1.55,6),(1.6,-1),(1.65,15),(1.7,-4),(1.75,8),(1.8,-12),(1.85,17),(1.9,2),(-0.92,-19),(-0.72,-17),(-0.42,-26),(-0.12,-22),(0.18,-24),(0.42,-27),(0.62,-29),(0.85,-25),(1.05,-28),(1.32,-21),(1.52,-24),(-1.3,1),(-1.22,-3),(-1.12,-5),(-1.42,-3),(-1.62,-2),(-1.85,-3),(-2.05,-3),(-0.55,21),(-0.2,18),(0.1,21),(0.4,25),(0.7,20),(1,24),(1.3,21),(1.6,20),(1.85,20),(-0.1,8),(0.25,9),(0.6,11),(-0.5,-6),(0.45,-10),(0.95,7)]

zlp_ztsne = [(-1.68,19.2),(-1.48,24.2),(-1.5,18.3),(-1.45,18.5),(-1.42,16.8),(-1.41,16.6),(-1.35,16.4),(-1.63,0.8),(-1.59,1.3),(-1.46,1.5),(-1.39,-4.6),(-1.37,-2.2),(-1.33,-4.4),(-1.29,-3.6),(-1.24,-4.4),(-1.21,-6.8),(-1.24,25.9),(-1.18,26.3),(0.1,27),(0.23,22.4),(0.13,21),(0.52,15.3),(0.52,10.9),(0.68,5.3),(0.51,3),(0.67,-1.5),(0.17,9.3),(1.11,-9.3),(1.03,-10.2),(0.74,-10.8),(0.82,-15.5),(0.64,-17.9),(0.77,-18.2),(0.78,-20.1),(0.81,-21.6),(0.82,-21.9),(0.82,-22.8),(0.99,-23.9),(1.04,-23.8),(0.58,-23),(-0.11,-26.1),(0.15,-24.8),(-0.53,-23.6),(-0.48,-23.3),(-0.43,-24.2),(-0.38,-23.5),(-0.34,-25.1),(-0.3,-23.9),(-0.23,-25),(-0.18,-23.5),(-0.63,-14.5),(-0.59,-12.6),(-0.55,-13.5),
(-1.3,19.5),(-1.27,17.5),(-1.25,23),(-1.22,19),(-1.2,15.5),(-1.18,2.8),(-1.15,9),(-1.13,13),(-1.12,16),(-1.1,21),(-1.08,-2.5),(-1.06,2.5),(-1.05,8.3),(-1.04,-5),(-1.03,16),(-1.02,23.5),(-1.0,4),(-0.98,19),(-0.97,-1),(-0.95,25),(-0.94,12),(-0.92,3),(-0.9,22),(-0.89,-4),(-0.87,9),(-0.86,27),(-0.85,15),(-0.83,1.5),(-0.82,24),(-0.8,-5),(-0.79,5),(-0.77,19),(-0.76,26),(-0.75,-7.5),(-0.73,13),(-0.72,2),(-0.7,9),(-0.69,22),(-0.68,-5),(-0.66,16),(-0.65,6),(-0.64,25),(-0.63,0),(-0.62,11),(-0.61,-8),(-0.6,19),(-0.58,3),(-0.57,14),(-0.56,-4),(-0.55,8),(-0.54,23),(-0.52,-1),(-0.51,12),(-0.5,5),(-0.49,-8),(-0.48,17),(-0.47,1),(-0.46,25),(-0.45,9),(-0.44,-4),(-0.43,14),(-0.42,-8),(-0.41,4),(-0.4,21),(-0.38,-1),(-0.37,11),(-0.36,-6),(-0.35,7),(-0.34,-15),(-0.33,18),(-0.32,2),(-0.31,-17),(-0.3,-4),(-0.29,9),(-0.28,-8),(-0.27,20),(-0.26,5),(-0.25,-14),(-0.24,-2),(-0.23,16),(-0.22,-10),(-0.21,7),(-0.2,-16),(-0.19,1),(-0.18,-6),(-0.17,-18),(-0.16,20),(-0.15,-9),(-0.14,5),(-0.13,-14),(-0.12,-3),(-0.11,16),(-0.1,-20),(-0.09,-7),(-0.08,7),(-0.07,-11),(-0.06,-22),(-0.05,2),(-0.04,-16),(-0.03,8),(-0.02,-9),(-0.01,-19),(0,4.5),(0.01,-24),(0.02,-12),(0.03,9),(0.04,-3),(0.05,-18),(0.06,-8),(0.07,-22),(0.08,3),(0.09,-13),(0.1,-5),(0.11,-19),(0.12,-9),(0.13,-23),(0.14,-15),(0.16,-1),(0.17,-20),(0.18,-8),(0.2,-18),(0.21,-12),(0.22,2),(0.24,-21),(0.25,-8),(0.27,-17),(0.28,1),(0.3,-20),(0.31,-4),(0.32,-13),(0.34,-8),(0.36,-18),(0.38,1.5),(0.4,-21),(0.41,-5),(0.42,-12),(0.44,-16),(0.46,-9),(0.48,-20),(0.5,-15),(0.52,-17),(0.54,-16),(0.56,-19),(0.5,-9.5)]
zlp_ztsne_core = [(-0.8,14),(-0.77,10),(-0.74,6),(-0.72,14),(-0.7,3),(-0.68,11),(-0.66,7),(-0.65,14),(-0.63,3),(-0.62,8),(-0.6,12),(-0.59,-1),(-0.58,6),(-0.56,10),(-0.55,2),(-0.53,13),(-0.52,5),(-0.5,9),(-0.49,0),(-0.47,6),(-0.46,11),(-0.44,2),(-0.43,-2),(-0.42,7),(-0.4,12),(-0.39,-1),(-0.37,4),(-0.36,9),(-0.34,0),(-0.33,6),(-0.31,-6),(-0.3,2),(-0.28,-3),(-0.27,5),(-0.25,-8),(-0.24,2),(-0.22,-5),(-0.21,-10),(-0.2,-1),(-0.18,-8),(-0.17,-13),(-0.16,-4),(-0.14,-10),(-0.13,-16),(-0.12,-7),(-0.1,-12),(-0.09,-18),(-0.08,-10),(-0.06,-14),(-0.05,-8),(-0.04,-19),(-0.02,-11),(0,-15),(0.02,-8),(0.03,-19),(0.05,-11),(0.07,-16),(0.09,-9),(0.1,-20),(0.12,-12),(0.14,-18),(0.16,-9),(0.18,-16),(0.2,-20),(0.23,-10),(0.25,-18),(0.28,-20),(0.31,-17),(0.34,-20),(0.37,-17),(-0.92,1),(-0.88,3),(-0.84,-1),(-0.81,2),(-0.78,0),(-0.75,3),(-0.98,3),(-1.03,1),(-1.08,2),(-0.9,19),(-0.85,24),(-0.8,21),(-0.75,24),(-0.7,19),(-0.65,21),(-0.6,17),(-0.52,20),(-0.42,17),(-0.3,-15),(-0.27,-17),(-0.24,-15),(-0.2,-19),(-0.15,-17),(-0.7,-7.5),(-0.6,-6),(-0.52,-6),(-0.45,-7),(-0.38,-4)]

zpca_ztsne = [(6.87,-19.4),(1.55,20.5),(-3.52,18.2),(-3.18,26.3),(0.73,25.1),(0.73,24.4),(-1.1,25),(2.67,3),(3.55,-3.3),(3.81,-11.6),(3.55,-23),(0.25,-23.8),(0.32,-23.9),(-0.94,-16.2),(-0.74,-16),(-0.66,-16.6),(5.03,-13.9),(5.18,-16.6),(-2.44,-7.4),(-2.68,-4.4),(-2.98,1.5),(-2.93,1.5),(-2.81,4.1),(2.11,-26.2),(0.62,-16.1),
(-3.35,18),(-3.2,17),(-3.15,15),(-3.05,18),(-3.0,11),(-2.95,20),(-2.9,24),(-2.85,27),(-2.82,9),(-2.8,17),(-2.72,12),(-2.7,21),(-2.65,25),(-2.6,1),(-2.58,16),(-2.55,3),(-2.5,10),(-2.48,27),(-2.45,19),(-2.42,23),(-2.38,5),(-2.35,14),(-2.32,-1),(-2.3,26),(-2.27,21),(-2.25,9),(-2.22,17),(-2.2,2),(-2.18,24),(-2.15,12),(-2.12,27),(-2.1,-4),(-2.08,20),(-2.05,6),(-2.03,15),(-2,23),(-1.98,10),(-1.95,0),(-1.92,18),(-1.9,-6),(-1.88,13),(-1.85,26),(-1.82,4),(-1.8,8),(-1.78,12),(-1.75,-2),(-1.72,17),(-1.7,6),(-1.67,10),(-1.65,21),(-1.62,1),(-1.6,-5),(-1.57,14),(-1.55,8),(-1.52,3),(-1.5,-7),(-1.47,11),(-1.45,15),(-1.42,5),(-1.4,21),(-1.37,-1),(-1.35,9),(-1.32,-4),(-1.3,13),(-1.27,20),(-1.25,3),(-1.22,7),(-1.2,-6),(-1.17,11),(-1.15,0),(-1.12,21),(-1.1,5),(-1.07,-2),(-1.05,10),(-1.02,19),(-1,1),(-0.97,7),(-0.95,16),(-0.92,-4),(-0.9,4),(-0.87,-1),(-0.85,21),(-0.82,9),(-0.8,15),(-0.77,0),(-0.75,5),(-0.7,11),(-0.67,19),(-0.65,2),(-0.6,-5),(-0.57,8),(-0.55,15),(-0.5,22),(-0.47,0),(-0.45,5),(-0.4,10),(-0.37,15),(-0.35,-8),(-0.3,20),(-0.27,3),(-0.25,-2),(-0.2,13),(-0.17,9),(-0.15,23),(-0.1,-6),(-0.07,3),(-0.05,16),(0,-11),(0.02,14),(0.05,20),(0.08,5),(0.1,-13),(0.12,-8),(0.15,8),(0.18,-3),(0.2,-15),(0.22,15),(0.25,-10),(0.28,-6),(0.3,21),(0.33,-18),(0.35,7),(0.38,-12),(0.4,-3),(0.42,19),(0.45,-8),(0.48,-15),(0.5,2),(0.52,-20),(0.55,-11),(0.57,20),(0.6,-6),(0.62,-14),(0.65,0),(0.67,-18),(0.7,15),(0.72,-9),(0.75,-21),(0.78,-13),(0.8,3),(0.82,-5),(0.85,-16),(0.88,-11),(0.9,-23),(0.93,16),(0.95,-7),(0.98,-18),(1.0,4),(1.03,-13),(1.05,-22),(1.08,-9),(1.1,1),(1.13,-19),(1.18,-24),(1.2,-14),(1.25,3),(1.28,-20),(1.3,-7),(1.35,2),(1.38,-17),(1.42,-11),(1.48,0),(1.5,-21),(1.55,3),(1.6,-8),(1.65,-18),(1.7,-22),(1.75,1),(1.8,-5),(1.85,-24),(1.9,-17),(1.95,-9),(2,-2),(2.05,-22),(2.1,-16),(2.15,-7),(2.2,-24),(2.25,-18),(2.3,-1),(2.35,-25),(2.4,-9),(2.45,-20),(2.5,-16),(2.55,-7),(2.6,-24),(2.65,-19),(2.7,-10),(2.72,-4),(2.75,-15),(2.8,-8),(2.85,-21),(2.9,-10),(2.95,-17),(3.0,-24),(3.05,-7),(3.1,-12),(3.15,-17),(3.2,-9),(3.25,-18),(3.3,-11),(3.4,-6),(3.45,-13),(3.5,-16),(3.6,-20),(3.7,-15),(3.8,-20),(3.9,-14),(4.05,-17),(4.15,-14),(4.2,-17),(4.35,-19),(4.4,-15),(4.45,-18),(4.6,-15),(4.65,-20),(4.75,-18),(4.85,-17),(4.95,-20),(5.0,-19),(4.9,-19)]
zpca_ztsne_core = [(-2.6,21),(-2.52,23),(-2.45,25),(-2.4,21),(-2.35,18),(-2.3,23),(-2.25,25),(-2.2,21),(-2.15,19),(-2.1,23),(-2.05,25),(-2,20),(-1.95,17),(-2.55,18),(-2.7,17),(-2.15,8),(-2.08,11),(-2,6),(-1.95,13),(-1.9,9),(-1.85,4),(-1.8,11),(-1.75,7),(-1.7,13),(-1.68,2),(-1.65,9),(-1.6,5),(-1.58,11),(-1.55,0),(-1.5,8),(-1.48,5),(-1.45,10),(-1.4,2),(-1.35,12),(-1.3,6),(-1.25,-1),(-1.2,9),(-1.15,3),(-1.1,7),(-1.05,-1),(-1,5),(-2.4,3),(-2.3,7),(-2.2,0),(-2.1,4),(-2,2),(-2.05,-1),(-1.9,-2),(-0.6,3),(-0.55,6),(-0.5,1),(-0.45,8),(-0.4,4),(-0.35,0),(-0.3,6),(-0.25,2),(-0.2,7),(-0.15,4),(-0.1,-1),(-0.05,7),(0,3),(0.05,1),(0.2,-7),(0.25,-12),(0.3,-4),(0.35,-9),(0.4,-14),(0.45,-5),(0.5,-9),(0.55,-17),(0.6,-11),(0.65,-6),(0.7,-13),(0.75,-18),(0.8,-7),(0.85,-12),(0.9,-16),(0.95,-10),(1,-19),(1.05,-16),(1.1,-12),(1.15,-21),(1.25,-17),(1.35,-20),(1.45,-22),(1.3,0),(1.4,3),(1.45,-1),(1.5,2),(1.55,0),(1.6,2),(2.5,-10),(2.6,-8),(2.65,-11),(2.75,-9),(2.85,-7),(2.9,-12),(3.0,-9),(3.05,-11),(2.55,-18),(2.65,-21),(2.8,-19),(2.9,-19),(3.0,-16),(3.1,-17),(2.1,-21),(2.2,-22),(2.3,-23),(2.35,-21)]

xtsne_ztsne = [(-38.9,-10.2),(-38,17.8),(-37,16),(-36,-12),(-36,14.5),(-35.5,25.8),(-35,10.5),(-35,17.5),(-35,-1),(-34.5,-10.5),(-33,21),(-33,10.5),(-33,1.5),(-33,-1.2),(-32.5,-24.9),(-32.5,-16.5),(-32,9),(-32,-5),(-32,-10),(-31,21),(-30,12.5),(-30,4),(-29.8,-3),(-29.5,16.5),(-29,26),(-28.5,24.5),(-28.5,7.5),(-28,-10.5),(-27.5,2),(-27.5,18.5),(-27,-3.5),(-26.5,-7),(-26,8.5),(-26,-14.5),(-25.5,24.5),(-25,14.2),(-25,1.5),(-24.5,-17),(-24,-7.5),(-24,10.5),(-23.5,20.5),(-23,-1),(-22.5,-22),(-22.5,-23.5),(-22,8),(-21.5,3),(-21,-18),(-20.5,20.5),(-20,-10),(-20,14),(-19.5,-2),(-19,23),(-19,-24),(-18.5,9),(-18,4),(-18,-16.5),(-17.5,14),(-17,21),(-17,-6),(-16.5,1),(-16,-23.5),(-16,10),(-15.5,-14),(-15,17.5),(-15,5),(-14.5,-2),(-14,-10),(-14,24),(-13.5,12),(-13,-18),(-13,7),(-12.5,-8),(-12,19),(-12,1),(-11.5,-23),(-11,11.5),(-11,-4),(-10.5,23),(-10,6),(-10,-14),(-9.5,-1),(-9,15),(-9,-22),(-8.5,9),(-8,-8),(-8,2),(-7.5,24),(-7,-16),(-7,14.5),(-6.5,-4),(-6,7),(-6,-22),(-5.5,-11),(-5,20),(-5,2),(-4.5,-17),(-4,11),(-4,-6),(-3.5,25.5),(-3,-21),(-3,6),(-2.5,15),(-2,-11),(-2,-25),(-1.5,1),(-1,20),(-1,-15),(-0.5,8),(0,-8),(0,24),(0,-18),(0.5,3),(1,-2),(1,13),(1.5,-10),(2,-20),(2,9),(2.5,24),(3,-5),(3,-15),(3.5,5),(3.7,-25),(4,15),(4,-24),(4.5,-9),(5,21),(5,1),(5.5,-18),(5.5,-25),(6,11),(6.5,-6),(7,-13),(7.5,4),(8,25),(8,-17),(8.5,10),(9,-1),(9,-21),(9.5,15),(10,-8),(10,24),(10.5,-22),(11,4),(11.5,-14),(12,13),(12,-1),(12.5,23),(13,-19),(13,7),(14,-9),(14,16),(14,25),(14.5,0),(15,-13),(15,21),(15.5,-21),(16,4),(16,-4),(16.5,24.5),(17,-10),(17,11),(17.5,-16),(18,7),(18,-8),(19,20),(19,-3),(19.5,-10),(20,15),(20.5,-21),(20.5,1),(21,22),(21,-7),(21.5,-24),(21.5,4),(22,-16),(22,12),(22.5,-20),(23,-10),(23,1),(23.5,23),(24,-15),(24,-3),(24.5,11),(24.5,24.5),(25,-25),(25,-18),(25.5,4),(26,16),(26,-7),(26.5,23),(27,-15),(27,1.5),(27.5,-2),(28,19),(28,-22),(28.5,-6),(29,-21),(29,6.5),(29.5,11),(30,-9),(30,0.5),(30.2,22),(30.5,18),(31,13),(31,5.5),(32,5.5),(32.5,-7.5),(33.5,-3),(34,-5),(34.8,-1),(35,17.5),(35,18),
(-37,-4),(-36.5,-7),(-34,4),(-34,3),(-31,-4),(-31,-9),(-30.5,18),(-29,-6),(-28,14),(-28,-16),(-27,-22),(-26,-24),(-26,-25),(-25,3),(-24,5),(-24,-19),(-23,17),(-22,23),(-22,-10),(-21,6),(-21,-15),(-20,-5),(-19,7),(-19,-13),(-18.5,-8),(-18,18),(-17,2),(-17,-10),(-16,6),(-15.5,-20),(-15,-7),(-14,9),(-14,-19),(-13,3),(-13,-5),(-12,16),(-12,-11),(-11,5),(-11,-17),(-10,-8),(-10,0),(-9,8),(-8.5,-11),(-8,-18),(-7,0),(-7,-7),(-6,13),(-6,3),(-5.5,-4),(-5,-12),(-5,6),(-4.5,-20),(-4,-1),(-4,-10),(-3,16),(-3,1),(-2.5,-17),(-2,5),(-2,-6),(-1.5,-18),(-1,12),(-1,-1),(-0.5,-21),(0,3),(0.5,-9),(1,8),(1,-16),(2,1),(2.5,-7),(3,12),(3,-18),(4,5),(4,-12),(5,-1),(5,-17),(6,-8),(7,7),(7,-3),(7.5,-10),(8,-18),(8.5,1),(9,-5),(10,1),(10,-11),(11,-18),(11,9),(12,-4),(12.5,3),(13,-10),(14,1),(14.5,-6),(15,7),(16,-11),(17,-1),(18,3)]
xtsne_ztsne_core = [(-20,1),(-19,-1),(-18,-9),(-17.5,7),(-16,-2),(-15,-10),(-14.5,3),(-13.5,-8),(-12.5,2),(-11.5,7),(-11,-9),(-10.5,-1),(-9.5,5),(-9,-12),(-8,-3),(-7.5,6),(-6.8,-13),(-6,-6),(-5,0),(-4.5,7),(-4,-15),(-3.5,-3),(-3,10),(-2.5,-8),(-2,1),(-1.5,-13),(-1,7),(-0.5,-4),(0,-12),(0.5,7),(1,-8),(1.5,2),(2,-14),(2.5,5),(3,0),(3.5,-9),(4,9),(4.5,-16),(5,-4),(5.5,6),(6,-12),(6.5,1),(7,10),(7.5,-7),(8,-1),(8.5,-14),(9,7),(9.5,2),(10,-5),(10.5,9),(11,-9),(11.5,-1),(12,6),(13,2),(13.5,-5),(15,-2),(-2,-19),(0,-19),(2,-18),(4,-19),(6,-17),(-6,-19),(-8,-16),(-22,3),(-24,1),(-26,0),(-13,-16),(-10,-19),(-4,-19),(-3,-17)]

panels = [
 ("x","LP","z","LP",(-4.55,4.76),(-1.80,1.216),[-4,-2,0,2,4],[-1.5,-1,-0.5,0,0.5,1],{-1.0:"",0.0:""},xlp_zlp+xlp_zlp_core),
 ("x","LP","x","PCA",(-4.53,4.74),(-8.36,3.03),[-4,-2,0,2,4],[-8,-6,-4,-2,0,2],{},xlp_xpca+xlp_xpca_core),
 ("x","LP","x","tSNE",(-4.53,4.74),(-41.7,37.4),[-4,-2,0,2,4],[-40,-20,0,20],{},xlp_xtsne+xlp_xtsne_core),
 ("z","LP","z","PCA",(-1.787,1.222),(-3.97,7.25),[-1.5,-1,-0.5,0,0.5,1],[-2,0,2,4,6],{},zlp_zpca+zlp_zpca_core),
 ("x","PCA","z","PCA",(-8.31,3.03),(-3.97,7.25),[-8,-6,-4,-2,0,2],[-2,0,2,4,6],{},xpca_zpca+xpca_zpca_core),
 ("x","PCA","x","tSNE",(-8.31,3.03),(-41.8,37.6),[-8,-6,-4,-2,0,2],[-40,-20,0,20],{},xpca_xtsne+xpca_xtsne_core),
 ("z","LP","z","tSNE",(-1.787,1.222),(-28.1,29.2),[-1.5,-1,-0.5,0,0.5,1],[-20,-10,0,10,20],{},zlp_ztsne+zlp_ztsne_core),
 ("z","PCA","z","tSNE",(-3.94,7.27),(-28.1,29.2),[-2,0,2,4,6],[-20,-10,0,10,20],{},zpca_ztsne+zpca_ztsne_core),
 ("x","tSNE","z","tSNE",(-41.6,37.4),(-28.1,29.2),[-40,-20,0,20],[-20,-10,0,10,20],{},xtsne_ztsne+xtsne_ztsne_core),
]
SUBW = {"LP":1.223,"PCA":2.056,"tSNE":2.334}
MAIN, SUB = 15.5, 12.8
FW, FH = 338, 158
COLW = [424, 423, 417]
ROWH = [285, 285, 234]

def fmt(ticks, one_dec):
    return {float(t): (f"{t:.1f}" if one_dec else f"{t:g}") for t in ticks}

def ttl(text, size, offset, standoff):
    return Title(text=text, text_font="Liberation Sans", text_font_size=f"{size}px", text_font_style="normal",
                 text_color="#222222", align="left", offset=offset, standoff=standoff)

def make(i, P):
    xm, xs, ym, ys, xr, yr, xt, yt, hide, pts = P
    c, r_ = i % 3, i // 3
    w, h = COLW[c], ROWH[r_]
    left, top = 57, 14
    p = figure(width=w, height=h, x_range=xr, y_range=yr, toolbar_location=None, output_backend="svg",
               min_border_left=left, min_border_right=w-left-FW, min_border_top=top, min_border_bottom=h-top-FH)
    p.grid.visible = False
    p.outline_line_color = "#555555"; p.outline_line_width = 1.2
    p.scatter([a for a, _ in pts], [b for _, b in pts], marker="circle", size=6, fill_color=None,
              line_color="black", line_width=1.1, line_alpha=0.9)
    for ax, t, st in ((p.xaxis[0], xt, 11), (p.yaxis[0], yt, 14)):
        ax.ticker = FixedTicker(ticks=t)
        ax.bounds = (min(t), max(t))
        ax.minor_tick_line_color = None
        ax.major_tick_in = 0; ax.major_tick_out = 6
        ax.axis_line_color = "#333333"; ax.major_tick_line_color = "#333333"
        ax.major_label_text_font = "Liberation Sans"
        ax.major_label_text_font_size = "10.8px"
        ax.major_label_text_color = "#333333"
        ax.major_label_standoff = st
        one = any(float(v) != int(v) for v in t)
        ov = fmt(t, one)
        for k, v in hide.items():
            ov[float(k)] = v
        ax.major_label_overrides = ov
    p.yaxis[0].major_label_orientation = pi/2
    # x label: spacer, main, subscript
    wm = 0.5*MAIN; wsub = SUBW[xs]*SUB
    x0 = FW/2 - (wm+wsub)/2
    p.add_layout(ttl(" ", 10, 0, -4), "below")
    p.add_layout(ttl(xm, MAIN, x0, -12), "below")
    p.add_layout(ttl(xs, SUB, x0+wm, -15), "below")
    # y label: spacer, subscript, main
    wm = 0.5*MAIN; wsub = SUBW[ys]*SUB
    y0 = FH/2 - (wm+wsub)/2
    p.add_layout(ttl(" ", 10, 0, 0), "left")
    p.add_layout(ttl(ys, SUB, y0+wm, -13), "left")
    p.add_layout(ttl(ym, MAIN, y0, -15), "left")
    return p

figs = [make(i, P) for i, P in enumerate(panels)]
layout = column(row(*figs[:3], spacing=0), row(*figs[3:6], spacing=0), row(*figs[6:], spacing=0), spacing=0)
open("out.html", "w").write(file_html(layout, INLINE))
